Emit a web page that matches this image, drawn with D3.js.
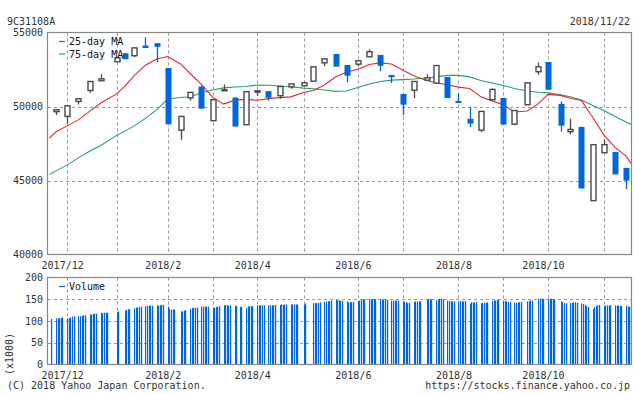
<!DOCTYPE html>
<html>
<head>
<meta charset="utf-8">
<script src="https://cdn.jsdelivr.net/npm/d3@7/dist/d3.min.js"></script>
<style>
  body { margin: 0; background: #fff; }
  svg { display: block; font-family: "DejaVu Sans Mono", monospace; font-size: 10px; }
</style>
</head>
<body>
<div id="container"></div>
<script>
// weekly candles (first trading day of each week)
const weekDates = ['2017-11-27','2017-12-04','2017-12-11','2017-12-18','2017-12-25','2018-01-04','2018-01-09','2018-01-15',
  '2018-01-22','2018-01-29','2018-02-05','2018-02-13','2018-02-19','2018-02-26','2018-03-05','2018-03-12','2018-03-19',
  '2018-03-26','2018-04-02','2018-04-09','2018-04-16','2018-04-23','2018-05-01','2018-05-07','2018-05-14','2018-05-21',
  '2018-05-28','2018-06-04','2018-06-11','2018-06-18','2018-06-25','2018-07-02','2018-07-09','2018-07-17','2018-07-23',
  '2018-07-30','2018-08-06','2018-08-13','2018-08-20','2018-08-27','2018-09-03','2018-09-10','2018-09-18','2018-09-25',
  '2018-10-01','2018-10-09','2018-10-15','2018-10-22','2018-10-29','2018-11-05','2018-11-12','2018-11-19'];
const opens = [49650,49330,50340,51080,51740,53020,53560,53430,54080,54240,52570,48400,50590,51310,49040,51070,50570,
  48770,50970,51000,50730,51330,51400,51710,52950,53510,52770,52860,53360,53450,52100,50810,51100,51780,51580,51960,
  50340,49130,48400,50460,50540,48810,50120,52350,52970,50140,48300,48590,43640,46880,46900,45820];
const highs = [49780,50080,50530,51700,52180,53300,53570,53970,54680,54250,52580,49330,50950,51420,50460,51490,50600,
  51000,51070,51000,51360,51540,51690,52690,53230,53520,52780,53090,53850,53450,52100,50820,51690,52180,52780,51970,
  50900,50000,49670,51240,50550,49740,51610,52970,52980,50340,49170,48600,47420,47780,46900,45820];
const lows = [49420,48860,50140,50930,51730,53000,53220,53330,53980,53000,48820,47760,50410,49890,49040,51060,48680,
  48770,50730,50410,50520,51200,51400,51710,52720,52720,51640,52700,53360,52390,51580,49420,50560,51780,51580,50610,
  50270,48610,48270,50460,48810,48740,50120,52140,51170,48300,48100,44490,43640,46880,45440,44420];
const closes = [49780,50050,50520,51690,51870,53290,53230,53960,53990,54070,48830,49330,50950,49890,50460,51130,48680,
  51000,51060,50630,51350,51530,51600,52680,53220,52730,52120,53090,53700,52790,52010,50160,51690,51940,52770,50610,
  50270,48880,49670,51150,48810,49730,51600,52680,51170,48740,48450,44490,47420,47420,45440,45030];

// moving averages read at the chart edges and at each weekly candle
const maStart = '2017-11-23';
const maEnd = '2018-11-22';
const ma25 = [47870,48290,48690,49095,49670,50240,50850,51355,52085,52790,53205,53380,52875,52230,51490,50630,50160,
  50430,50480,50425,50530,50600,50650,50950,51085,51455,51995,52335,52520,52840,52950,52870,52470,52080,51760,51610,
  51475,51310,51220,50650,50380,50120,49630,49700,50190,50815,50750,50560,50400,49270,48080,47240,46650,46160];
const ma75 = [45415,45650,46055,46530,46970,47370,48050,48320,48690,49195,49770,50510,50610,50660,50930,51120,51260,
  51320,51355,51455,51435,51390,51335,51240,51195,51110,51020,51050,51290,51525,51690,51780,51815,51855,51930,52000,
  52100,52100,52000,51760,51590,51420,51220,51050,50965,50920,50795,50655,50445,50070,49735,49330,48960,48790];

// daily volume (x1000), one row per week Mon..Fri, null = no trading
const volFirstMonday = '2017-11-20';
const volWeeks = [
  [null,null,null,null,105],[106,106,107,107,108],[106,107,108,110,111],[111,111,112,113,113],[115,115,116,117,117],
  [118,119,119,119,119],[null,null,null,121,122],[null,124,126,127,127],[129,131,131,132,133],[134,135,136,135,135],
  [136,135,136,137,137],[133,128,126,127,126],[null,122,122,124,125],[128,130,130,131,131],[133,133,133,133,133],
  [130,131,132,133,134],[136,137,136,135,136],[135,134,null,132,133],[130,133,134,134,134],[136,136,136,136,136],
  [136,136,136,136,137],[137,138,137,138,138],[138,138,138,138,138],[null,138,140,null,null],[141,141,141,142,143],
  [144,145,145,146,147],[148,148,147,147,146],[145,143,144,143,144],[146,147,148,150,150],[150,150,150,151,150],
  [150,150,149,149,149],[147,147,147,147,147],[145,144,143,141,142],[144,145,145,145,145],[null,149,150,150,150],
  [148,150,151,151,150],[147,146,145,145,145],[145,146,145,145,146],[140,143,143,142,143],[141,141,142,142,143],
  [146,147,147,148,150],[147,146,145,144,144],[142,142,143,143,144],[null,145,146,147,147],[null,151,152,151,151],
  [150,151,151,150,149],[null,145,143,141,141],[141,142,143,143,142],[140,139,137,133,132],[128,132,135,136,137],
  [135,135,136,136,136],[136,136,135,135,134],[135,133,133,134,null]];

const monthLabels = ['2017/12','2018/2','2018/4','2018/6','2018/8','2018/10'];
const priceTicks = [40000, 45000, 50000, 55000];
const volTicks = [0, 50, 100, 150, 200];

const parse = d3.timeParse('%Y-%m-%d');
const W = 634, H = 394;
const left = 48, right = 631;
const pTop = 32.5, pBottom = 254.5, vTop = 277.5, vBottom = 364.5;
const upColor = '#fff', edge = '#4a4a4a', downColor = '#0066dd';
const gridColor = '#999', frameColor = '#888', textColor = '#333';

const candles = weekDates.map((d, i) => ({
  date: parse(d), open: opens[i], high: highs[i], low: lows[i], close: closes[i]
}));
const maDates = [maStart, ...weekDates, maEnd].map(parse);

const vols = [];
volWeeks.forEach((week, w) => {
  const monday = d3.timeDay.offset(parse(volFirstMonday), w * 7);
  week.forEach((v, k) => {
    if (v != null) vols.push({ date: d3.timeDay.offset(monday, k), value: v });
  });
});

const x = d3.scaleTime().domain([parse('2017-11-22'), parse('2018-11-22')]).range([left, right]);
const y = d3.scaleLinear().domain([40000, 55000]).range([pBottom, pTop]);
const yv = d3.scaleLinear().domain([0, 200]).range([vBottom, vTop]);

const svg = d3.select('#container').append('svg')
  .attr('width', W).attr('height', H);

const defs = svg.append('defs');
defs.append('clipPath').attr('id', 'clipP').append('rect')
  .attr('x', left).attr('y', pTop).attr('width', right - left).attr('height', pBottom - pTop);
defs.append('clipPath').attr('id', 'clipV').append('rect')
  .attr('x', left).attr('y', vTop).attr('width', right - left).attr('height', vBottom - vTop);

// month gridlines at the first candle of each month
const monthStarts = candles.filter((c, i) => i > 0 && c.date.getMonth() !== candles[i - 1].date.getMonth())
  .map((c) => c.date);
const gx = (d) => Math.round(x(d)) + 0.5;

[[pTop, pBottom], [vTop, vBottom]].forEach(([t, b]) => {
  svg.append('g').selectAll('line')
    .data(monthStarts).enter()
    .append('line')
    .attr('x1', gx).attr('x2', gx)
    .attr('y1', t).attr('y2', b)
    .attr('stroke', gridColor)
    .attr('stroke-dasharray', '3,3');
});

svg.append('g').selectAll('line')
  .data([45000, 50000]).enter()
  .append('line')
  .attr('x1', left).attr('x2', right)
  .attr('y1', (d) => Math.round(y(d)) + 0.5).attr('y2', (d) => Math.round(y(d)) + 0.5)
  .attr('stroke', gridColor).attr('stroke-dasharray', '3,3');

svg.append('g').selectAll('line')
  .data([50, 100, 150]).enter()
  .append('line')
  .attr('x1', left).attr('x2', right)
  .attr('y1', (d) => Math.round(yv(d)) + 0.5).attr('y2', (d) => Math.round(yv(d)) + 0.5)
  .attr('stroke', gridColor).attr('stroke-dasharray', '3,3');

// moving averages
const line = (vals) => d3.line()
  .x((d, i) => x(maDates[i]))
  .y((d) => y(d))(vals);

const maG = svg.append('g').attr('clip-path', 'url(#clipP)');
maG.append('path').attr('d', line(ma75))
  .attr('fill', 'none').attr('stroke', '#1fa463').attr('stroke-width', 1.1);
maG.append('path').attr('d', line(ma25))
  .attr('fill', 'none').attr('stroke', '#e8262a').attr('stroke-width', 1.1);

// candles
const bw = 5;
const cG = svg.append('g').attr('clip-path', 'url(#clipP)');
const cx = (d) => Math.round(x(d.date)) + 0.5;

cG.selectAll('line.wick')
  .data(candles).enter()
  .append('line')
  .attr('class', 'wick')
  .attr('x1', cx).attr('x2', cx)
  .attr('y1', (d) => y(d.high)).attr('y2', (d) => y(d.low))
  .attr('stroke', (d) => d.close >= d.open ? edge : downColor)
  .attr('stroke-width', 1.3);

cG.selectAll('rect.body')
  .data(candles).enter()
  .append('rect')
  .attr('class', 'body')
  .attr('x', (d) => cx(d) - bw / 2)
  .attr('width', bw)
  .attr('y', (d) => y(Math.max(d.open, d.close)))
  .attr('height', (d) => Math.max(1, Math.abs(y(d.open) - y(d.close))))
  .attr('fill', (d) => d.close >= d.open ? upColor : downColor)
  .attr('stroke', (d) => d.close >= d.open ? edge : downColor)
  .attr('stroke-width', (d) => d.close >= d.open ? 1.4 : 1);

// volume
svg.append('g').attr('clip-path', 'url(#clipV)')
  .selectAll('rect')
  .data(vols).enter()
  .append('rect')
  .attr('x', (d) => Math.round(x(d.date)))
  .attr('width', 1.2)
  .attr('y', (d) => yv(d.value))
  .attr('height', (d) => yv(0) - yv(d.value))
  .attr('fill', downColor);

// frames
[[pTop, pBottom], [vTop, vBottom]].forEach(([t, b]) => {
  svg.append('rect')
    .attr('x', left - 0.5).attr('y', t)
    .attr('width', right - left + 1).attr('height', b - t)
    .attr('fill', 'none').attr('stroke', frameColor).attr('stroke-width', 1.2);
});

// axes
svg.append('g')
  .attr('transform', `translate(${left},0)`)
  .call(d3.axisLeft(y).tickValues(priceTicks).tickSize(0).tickPadding(5).tickFormat(d3.format('d')))
  .call((g) => g.select('.domain').remove())
  .selectAll('text').attr('fill', textColor)
  .style('font-family', '"DejaVu Sans Mono", monospace').style('font-size', '10px');

svg.append('g')
  .attr('transform', `translate(${left},0)`)
  .call(d3.axisLeft(yv).tickValues(volTicks).tickSize(0).tickPadding(5))
  .call((g) => g.select('.domain').remove())
  .selectAll('text').attr('fill', textColor)
  .style('font-family', '"DejaVu Sans Mono", monospace').style('font-size', '10px');

const labelled = monthLabels.map((lab) => {
  const [yr, mo] = lab.split('/').map(Number);
  return { lab, date: monthStarts.find((d) => d.getFullYear() === yr && d.getMonth() === mo - 1) };
});
[268.5, 378.5].forEach((ty) => {
  svg.append('g').selectAll('text')
    .data(labelled).enter()
    .append('text')
    .attr('x', (d) => x(d.date) - 4.5)
    .attr('y', ty)
    .attr('text-anchor', 'middle')
    .attr('fill', textColor)
    .text((d) => d.lab);
});

// legends
const legend = [
  { label: '25-day MA', color: '#e8262a', y: 41.5 },
  { label: '75-day MA', color: '#1fa463', y: 54 },
  { label: 'Volume', color: downColor, y: 286.5 }
];
legend.forEach((l) => {
  svg.append('line')
    .attr('x1', 59).attr('x2', 65).attr('y1', l.y).attr('y2', l.y)
    .attr('stroke', l.color).attr('stroke-width', 1.2);
  svg.append('text')
    .attr('x', 69).attr('y', l.y + 3.5)
    .attr('fill', '#111')
    .text(l.label);
});

svg.append('text').attr('x', 7).attr('y', 25).attr('fill', textColor).text('9C31108A');
svg.append('text').attr('x', 630).attr('y', 25).attr('text-anchor', 'end').attr('fill', textColor).text('2018/11/22');
svg.append('text')
  .attr('transform', 'translate(13,354) rotate(-90)')
  .attr('text-anchor', 'middle')
  .attr('fill', textColor)
  .text('(x1000)');
svg.append('text').attr('x', 7).attr('y', 389).attr('fill', textColor).text('(C) 2018 Yahoo Japan Corporation.');
svg.append('text').attr('x', 630).attr('y', 389).attr('text-anchor', 'end').attr('fill', textColor)
  .text('https://stocks.finance.yahoo.co.jp');
</script>
</body>
</html>
